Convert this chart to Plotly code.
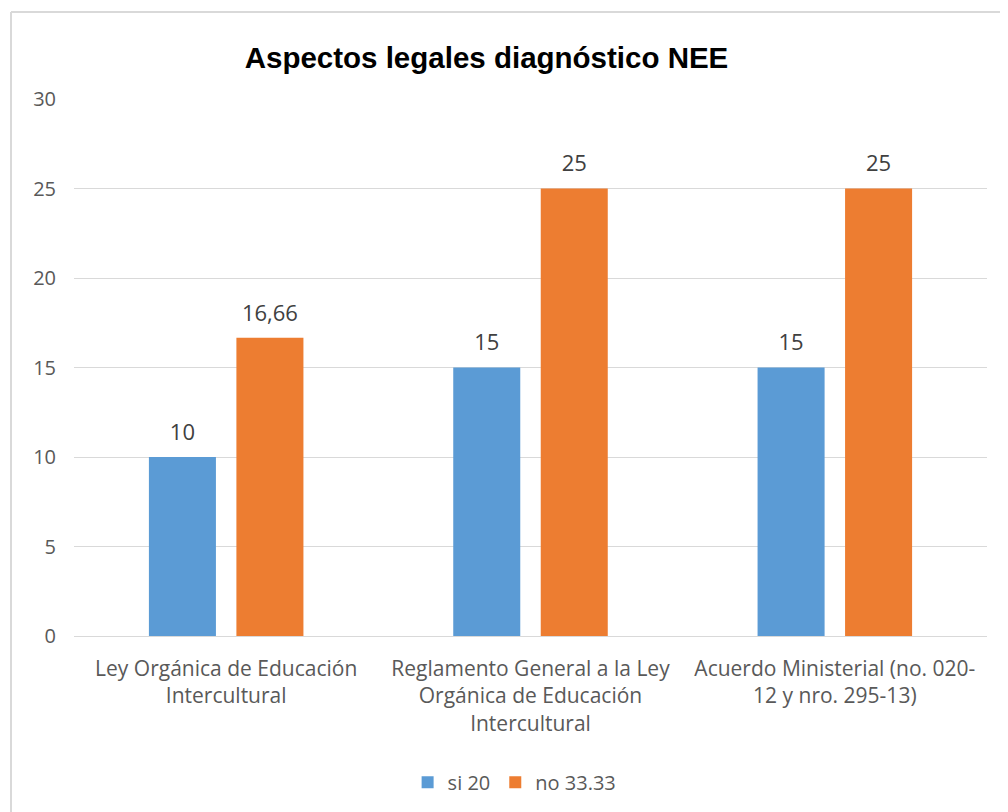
import plotly.graph_objects as go

categories = [
    "Ley Orgánica de Educación<br>Intercultural",
    "Reglamento General a la Ley<br>Orgánica de Educación<br>Intercultural",
    "Acuerdo Ministerial (no. 020-<br>12 y nro. 295-13)",
]
si_values = [10, 15, 15]
no_values = [16.66, 25, 25]
series_names = ["si 20", "no 33.33"]
series_colors = ["#5B9BD5", "#ED7D31"]
y_ticks = [0, 5, 10, 15, 20, 25, 30]


def fmt(v):
    return ("%g" % v).replace(".", ",")


FONT = "Open Sans, Liberation Sans, sans-serif"
label_font = dict(family=FONT, size=22, color="#404040")

fig = go.Figure()
for name, vals, col in zip(series_names, [si_values, no_values], series_colors):
    fig.add_trace(go.Bar(
        x=categories, y=vals, name=name,
        marker=dict(color=col, line=dict(width=0)),
        hoverinfo="x+y",
    ))
# data labels (grouped scatter so they sit above each bar)
for name, vals in zip(series_names, [si_values, no_values]):
    fig.add_trace(go.Scatter(
        x=categories, y=vals, mode="markers+text",
        text=[fmt(v) for v in vals], textposition="top center",
        textfont=label_font, marker=dict(size=17, opacity=0),
        showlegend=False, hoverinfo="skip", cliponaxis=False,
    ))

fig.update_layout(
    width=1000, height=804,
    paper_bgcolor="white", plot_bgcolor="white",
    margin=dict(l=66, r=21, t=91, b=175),
    barmode="group", bargap=0.425, bargroupgap=0.234,
    scattermode="group", scattergap=0.425,
    title=dict(
        text="<b>Aspectos legales diagnóstico NEE</b>",
        x=0.4785, xanchor="center", y=0.9378, yanchor="middle",
        font=dict(family="Liberation Sans, Arial, sans-serif", size=29.5, color="#000000"),
    ),
    showlegend=True,
    legend=dict(
        orientation="h", x=0.4826, xanchor="center", y=-0.27, yanchor="middle",
        font=dict(family=FONT, size=20, color="#595959"),
        itemwidth=30, tracegroupgap=0,
    ),
)
fig.update_yaxes(
    range=[0, 30], tickvals=y_ticks, showgrid=True, gridcolor="#D9D9D9", gridwidth=1,
    zeroline=True, zerolinecolor="#D9D9D9", zerolinewidth=1, showline=False,
    tickfont=dict(family=FONT, size=20, color="#595959"),
    ticks="", ticklabelstandoff=17,
)
fig.update_xaxes(
    showgrid=False, showline=False, ticks="",
    tickfont=dict(family=FONT, size=21, color="#595959"),
    ticklabelstandoff=18, tickangle=0,
)

# outer chart frame
fig.add_shape(type="line", xref="paper", yref="paper", x0=-0.069, x1=-0.069, y0=-0.4, y1=1.162,
              line=dict(color="#D9D9D9", width=2))
fig.add_shape(type="line", xref="paper", yref="paper", x0=-0.069, x1=1.1, y0=1.162, y1=1.162,
              line=dict(color="#D9D9D9", width=2))

fig.write_html("out.html")
